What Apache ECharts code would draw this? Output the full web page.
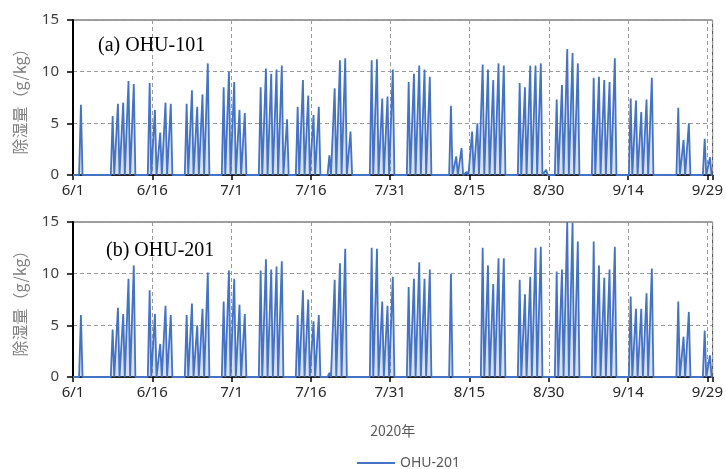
<!DOCTYPE html>
<html>
<head>
<meta charset="utf-8">
<title>除湿量</title>
<script src="https://cdn.jsdelivr.net/npm/echarts@6/dist/echarts.min.js"></script>
<style>
  html, body { margin: 0; padding: 0; background: #fff; }
  #chart { width: 726px; height: 469px; }
</style>
</head>
<body>
<div id="chart"></div>
<script>
// day index 0 = 6/1, one value per day = daily peak (g/kg)
const dateLabels = ["6/1", "6/16", "7/1", "7/16", "7/31", "8/15", "8/30", "9/14", "9/29"];
const peaks101 = [
  0, 6.8, 0, 0, 0, 0, 0, 5.7, 6.9, 7.0,
  9.1, 8.8, 0, 0, 8.9, 6.3, 4.1, 7.0, 6.9, 0,
  0, 6.9, 8.2, 6.6, 7.8, 10.8, 0, 0, 8.5, 10.0,
  9.0, 6.3, 6.0, 0, 0, 8.5, 10.3, 9.8, 10.2, 10.6,
  5.4, 0, 6.6, 9.2, 7.7, 5.8, 6.6, 0, 1.9, 8.4,
  11.1, 11.3, 4.2, 0, 0, 0, 11.1, 11.2, 7.4, 7.6,
  10.2, 0, 0, 9.0, 9.8, 10.6, 10.2, 9.5, 0, 0,
  0, 6.7, 1.8, 2.6, 0.3, 4.2, 5.0, 10.7, 10.2, 9.2,
  10.8, 10.6, 0, 0, 8.9, 8.5, 10.6, 10.6, 10.8, 0.5,
  0, 7.3, 8.7, 12.2, 11.8, 10.8, 0, 0, 9.4, 9.5,
  9.2, 9.0, 11.3, 0, 0, 7.4, 7.2, 6.1, 7.3, 9.4,
  0, 0, 0, 0, 6.5, 3.4, 5.0, 0, 0, 3.5,
  1.7
];
const peaks201 = [
  0, 6.0, 0, 0, 0, 0, 0, 4.6, 6.7, 6.1,
  9.5, 10.8, 0, 0, 8.4, 6.1, 3.2, 6.9, 6.0, 0,
  0, 6.0, 7.1, 5.0, 6.6, 10.1, 0, 0, 7.3, 10.3,
  9.5, 7.0, 6.1, 0, 0, 10.3, 11.4, 10.4, 10.7, 11.2,
  0, 0, 6.0, 8.4, 7.5, 5.4, 6.0, 0, 0.4, 9.4,
  11.0, 12.4, 0, 0, 0, 0, 12.5, 12.4, 7.3, 6.9,
  9.7, 0, 0, 8.7, 9.5, 11.1, 9.5, 10.4, 0, 0,
  0, 10.0, 0, 0, 0, 0, 0, 12.5, 10.8, 9.0,
  11.5, 11.5, 0, 0, 9.4, 8.0, 9.7, 12.5, 12.6, 0,
  0, 10.2, 10.4, 15.0, 14.9, 13.1, 0, 0, 13.1, 10.8,
  9.6, 10.4, 12.6, 0, 0, 7.8, 6.6, 6.6, 8.1, 10.5,
  0, 0, 0, 0, 7.3, 3.9, 6.3, 0, 0, 4.5,
  2.1
];
const yTicks = [0, 5, 10, 15];

// each day -> one spike: up to the daily peak and back down to 0
function toSeries(peaks) {
  let pts = [[0, 0]];
  peaks.forEach((p, d) => {
    if (p > 0) {
      pts.push([d + 0.15, 0], [d + 0.5, p], [d + 0.8, 0]);
    }
  });
  pts.push([peaks.length, 0]);
  return pts;
}

const blue = "#4472C4";
const grids = [
  { left: 73, right: 13, top: 20, height: 155 },
  { left: 73, right: 13, top: 222, height: 155 }
];

function xAxisOf(i) {
  return {
    type: "value",
    gridIndex: i,
    min: 0,
    max: 121,
    interval: 15,
    name: i === 1 ? "2020年" : "",
    nameLocation: "middle",
    nameGap: 47,
    nameTextStyle: { color: "#595959", fontSize: 14, fontFamily: "Noto Sans CJK JP" },
    axisLine: { onZero: false, lineStyle: { color: "#000", width: 1.5 } },
    axisTick: { show: true, length: 5, lineStyle: { color: "#000", width: 1.5 } },
    axisLabel: {
      color: "#262626",
      fontSize: 15,
      fontFamily: "Noto Sans",
      margin: 8,
      formatter: v => (v % 15 === 0 ? dateLabels[v / 15] : "")
    },
    splitLine: { show: true, lineStyle: { color: "#9a9a9a", type: [4, 3], width: 1 } }
  };
}

function yAxisOf(i) {
  return {
    type: "value",
    gridIndex: i,
    min: yTicks[0],
    max: yTicks[yTicks.length - 1],
    interval: 5,
    name: "除湿量（g/kg）",
    nameLocation: "middle",
    nameGap: 45,
    nameTextStyle: { color: "#7f7f7f", fontSize: 16, fontFamily: "Noto Sans CJK JP" },
    axisLine: { show: true, lineStyle: { color: "#000", width: 2 } },
    axisTick: { show: true, length: 6, lineStyle: { color: "#000", width: 1.5 } },
    axisLabel: { color: "#404040", fontSize: 15, fontFamily: "Noto Sans", margin: 14 },
    splitLine: { show: true, lineStyle: { color: "#9a9a9a", type: [4, 3], width: 1 } }
  };
}

function seriesOf(name, i, peaks) {
  return {
    name: name,
    type: "line",
    xAxisIndex: i,
    yAxisIndex: i,
    symbol: "none",
    lineStyle: { color: blue, width: 1.8 },
    itemStyle: { color: blue },
    areaStyle: { color: "rgba(68,114,196,0.3)" },
    data: toSeries(peaks)
  };
}

let myChart = echarts.init(document.getElementById("chart"), null, { renderer: "canvas" });
let option = {
  animation: false,
  backgroundColor: "#fff",
  title: [
    {
      text: "(a) OHU-101",
      left: 93,
      top: 31,
      textStyle: { fontFamily: "Liberation Serif", fontSize: 20, fontWeight: "normal", color: "#000" }
    },
    {
      text: "(b) OHU-201",
      left: 101,
      top: 236,
      textStyle: { fontFamily: "Liberation Serif", fontSize: 20, fontWeight: "normal", color: "#000" }
    }
  ],
  legend: {
    data: ["OHU-201"],
    left: 352,
    top: 451,
    icon: "rect",
    itemWidth: 38,
    itemHeight: 2,
    textStyle: { color: "#595959", fontSize: 14, fontFamily: "Noto Sans" }
  },
  grid: grids.map(g => Object.assign({ show: true, borderColor: "#404040", borderWidth: 1 }, g)),
  xAxis: [xAxisOf(0), xAxisOf(1)],
  yAxis: [yAxisOf(0), yAxisOf(1)],
  series: [
    seriesOf("OHU-101", 0, peaks101),
    seriesOf("OHU-201", 1, peaks201)
  ]
};
myChart.setOption(option);
</script>
</body>
</html>
